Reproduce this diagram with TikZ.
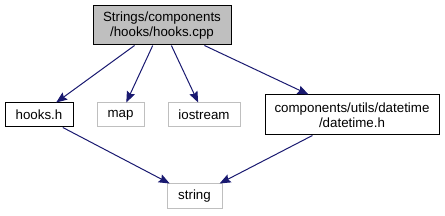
\documentclass[tikz,border=0pt]{standalone}
\usepackage{fontspec}
\setmainfont{Liberation Sans}
\definecolor{edgeblue}{HTML}{191970}
\definecolor{boxgray}{HTML}{BFBFBF}
\usetikzlibrary{arrows.meta}

\begin{document}
\begin{tikzpicture}[x=0.75pt,y=-0.75pt,
  file/.style={draw=black,line width=0.75pt,inner sep=0pt,font=\fontsize{10}{11.25}\selectfont,align=center},
  sysfile/.style={file,draw=boxgray},
  dep/.style={-{Stealth[length=8.25pt,width=6.5pt,inset=1.2pt]},edgeblue,line width=0.75pt}]
  \useasboundingbox (0,0) rectangle (445,216);

  % the source file
  \node[file,fill=boxgray,minimum width=103.5pt,minimum height=29.25pt] (cpp) at (162,25.5) {Strings/components\\/hooks/hooks.cpp};

  % included headers
  \node[file,minimum width=51pt,minimum height=18pt] (hooks) at (39,115) {hooks.h};
  \node[sysfile,minimum width=35.25pt,minimum height=18pt] (map) at (120.5,115) {map};
  \node[sysfile,minimum width=54pt,minimum height=18pt] (iostream) at (204,115) {iostream};
  \node[file,minimum width=130.5pt,minimum height=30pt] (datetime) at (352,115) {components/utils/datetime\\/datetime.h};
  \node[sysfile,minimum width=41.25pt,minimum height=18.75pt] (string) at (194.5,196.5) {string};

  % include edges
  \foreach \t in {hooks,map,iostream,datetime} {
    \draw[dep] (cpp) -- (\t);
  }
  \draw[dep] (hooks) -- (string);
  \draw[dep] (datetime) -- (string);
\end{tikzpicture}
\end{document}
